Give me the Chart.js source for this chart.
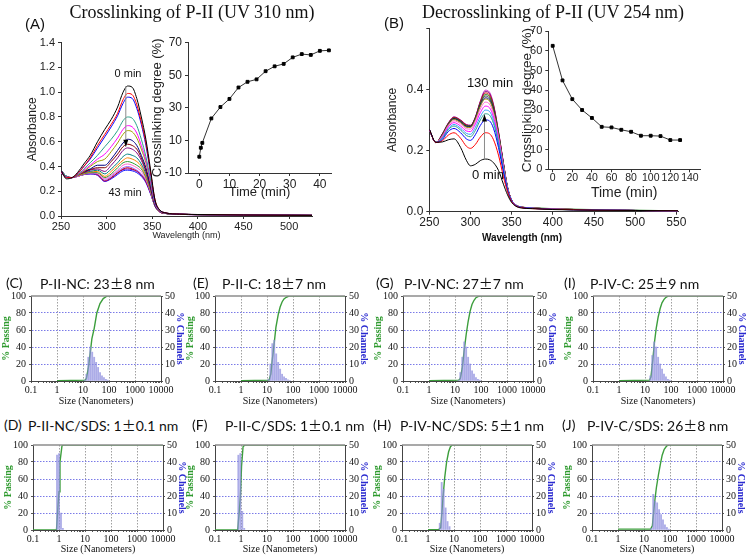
<!DOCTYPE html>
<html>
<head>
<meta charset="utf-8">
<script src="https://cdn.jsdelivr.net/npm/chart.js@4.4.0/dist/chart.umd.min.js"></script>
<style>
  body { margin: 0; background: #fff; }
  #page { position: relative; width: 750px; height: 559px; overflow: hidden; background: #fff; }
  canvas { position: absolute; }
  .txt { position: absolute; white-space: nowrap; line-height: 1; color: #111; }
  .pm { font-family: 'Noto Sans CJK SC'; }
</style>
</head>
<body>
<div id="page"></div>
<script>
/*
DATA
*/
// (A) crosslinking spectra, read at these wavelengths (nm)
const waveA = [250, 256, 262, 268, 275, 282, 290, 298, 305, 312, 318, 323, 328, 333, 338, 343, 348, 353, 358, 365, 380, 400, 450, 500, 525];
// one row per irradiation time, 0 min first, 43 min last
const spectraA = [
  [.37, .30, .31, .35, .42, .49, .60, .70, .78, .88, 1.00, 1.05, 1.04, .95, .80, .62, .38, .13, .05, .025, .015, .012, .008, .006, .005],
  [.36, .31, .31, .34, .40, .47, .57, .66, .74, .83, .94, .99, .98, .90, .76, .59, .36, .13, .05, .025, .015, .012, .008, .006, .005],
  [.36, .31, .31, .34, .40, .46, .55, .64, .72, .81, .91, .96, .95, .87, .74, .57, .35, .12, .05, .025, .015, .012, .008, .006, .005],
  [.37, .32, .31, .33, .38, .43, .49, .56, .62, .69, .77, .80, .79, .73, .62, .48, .30, .11, .045, .022, .014, .011, .008, .006, .005],
  [.37, .32, .31, .33, .37, .41, .46, .50, .56, .63, .70, .73, .72, .67, .57, .45, .28, .10, .04, .022, .014, .011, .008, .006, .005],
  [.37, .32, .31, .33, .36, .40, .44, .46, .52, .59, .66, .69, .68, .63, .54, .43, .27, .10, .04, .021, .014, .011, .008, .006, .005],
  [.37, .32, .31, .33, .36, .38, .41, .41, .46, .53, .59, .62, .61, .57, .49, .39, .25, .09, .038, .021, .014, .011, .008, .006, .005],
  [.37, .32, .31, .33, .355, .375, .39, .39, .44, .50, .56, .58, .57, .54, .47, .37, .24, .09, .037, .021, .014, .011, .008, .006, .005],
  [.36, .32, .31, .33, .35, .37, .38, .36, .41, .47, .53, .55, .54, .51, .45, .36, .23, .09, .036, .02, .014, .011, .008, .006, .005],
  [.36, .32, .31, .33, .35, .36, .37, .34, .38, .43, .48, .50, .49, .47, .42, .34, .22, .085, .036, .02, .014, .011, .008, .006, .005],
  [.36, .32, .31, .325, .345, .355, .36, .32, .36, .41, .45, .47, .46, .44, .40, .32, .21, .085, .035, .02, .014, .011, .008, .006, .005],
  [.36, .32, .31, .325, .34, .35, .35, .31, .34, .39, .43, .44, .43, .41, .38, .31, .205, .08, .035, .02, .014, .011, .008, .006, .005],
  [.35, .32, .31, .32, .34, .35, .345, .30, .33, .37, .41, .42, .41, .39, .36, .30, .20, .08, .034, .02, .014, .011, .008, .006, .005],
  [.35, .32, .31, .32, .335, .345, .34, .29, .32, .36, .39, .40, .39, .37, .34, .29, .195, .08, .034, .02, .013, .011, .008, .006, .005],
  [.35, .32, .31, .32, .335, .345, .335, .285, .31, .35, .38, .39, .38, .365, .335, .28, .19, .08, .034, .02, .013, .011, .008, .006, .005],
  [.35, .32, .31, .32, .335, .34, .33, .28, .305, .345, .375, .38, .375, .36, .33, .275, .185, .08, .034, .02, .013, .011, .008, .006, .005],
  [.35, .32, .31, .32, .335, .34, .33, .28, .30, .335, .365, .37, .365, .35, .32, .27, .18, .08, .034, .02, .013, .011, .008, .006, .005]
];
const colorsA = ['#000000', '#ff0000', '#0000ff', '#2aa18a', '#ff00ff', '#a0a000', '#000080', '#800000', '#800080',
                 '#008080', '#ff8000', '#339933', '#ff66cc', '#9966ff', '#cc0000', '#6600cc', '#1a1aff'];

// (A) inset: crosslinking degree vs time
const timeA = [0, 0.5, 1, 4, 7, 10, 13, 16, 19, 22, 25, 28, 31, 34, 37, 40, 43];
const degreeA = [0, 5.5, 8.5, 23.5, 30.5, 35.5, 42.5, 46, 47.5, 52.5, 55.5, 57, 61, 63, 62.5, 65, 65.3];

// (B) decrosslinking spectra
const waveB = [250, 258, 266, 273, 280, 288, 295, 300, 306, 312, 318, 323, 328, 334, 340, 345, 350, 355, 362, 375, 400, 450, 500, 552];
const spectraB = [
  [.270, .227, .228, .235, .238, .210, .168, .150, .155, .167, .172, .170, .160, .135, .090, .055, .030, .018, .012, .010, .007, .005, .004, .003],
  [.268, .226, .232, .250, .258, .240, .214, .207, .220, .244, .258, .255, .235, .185, .115, .065, .033, .019, .013, .010, .008, .005, .004, .003],
  [.268, .226, .236, .262, .272, .258, .238, .233, .252, .282, .300, .297, .272, .210, .130, .070, .035, .020, .014, .011, .008, .005, .004, .003],
  [.268, .226, .240, .268, .280, .267, .249, .245, .266, .300, .320, .316, .288, .222, .138, .073, .036, .020, .014, .011, .008, .005, .004, .003],
  [.268, .226, .242, .272, .285, .273, .256, .253, .276, .311, .332, .328, .298, .229, .142, .074, .036, .021, .014, .011, .008, .006, .004, .003],
  [.268, .226, .245, .277, .291, .280, .264, .262, .287, .324, .345, .340, .309, .237, .146, .076, .037, .021, .014, .011, .008, .006, .004, .003],
  [.268, .226, .248, .281, .297, .287, .271, .270, .296, .336, .358, .352, .320, .244, .150, .077, .037, .021, .015, .012, .009, .006, .004, .003],
  [.268, .226, .250, .284, .301, .291, .276, .275, .302, .345, .368, .362, .328, .250, .153, .078, .037, .021, .015, .012, .009, .006, .004, .003],
  [.268, .226, .251, .285, .303, .293, .278, .277, .304, .348, .372, .366, .332, .252, .154, .078, .037, .021, .015, .012, .009, .006, .004, .003],
  [.268, .226, .252, .286, .305, .295, .280, .279, .306, .352, .378, .372, .337, .255, .156, .079, .038, .022, .015, .012, .009, .006, .004, .003],
  [.268, .226, .253, .287, .306, .296, .281, .280, .307, .355, .383, .377, .341, .257, .157, .079, .038, .022, .015, .013, .010, .007, .005, .003],
  [.268, .226, .254, .288, .308, .298, .283, .281, .308, .358, .388, .382, .345, .259, .158, .080, .038, .022, .015, .012, .009, .006, .004, .003],
  [.268, .226, .255, .289, .309, .299, .284, .282, .309, .360, .393, .387, .348, .261, .159, .080, .038, .022, .015, .012, .009, .006, .004, .003],
  [.268, .226, .255, .290, .310, .300, .285, .283, .310, .362, .397, .391, .351, .263, .160, .081, .038, .022, .015, .012, .009, .006, .004, .003]
];
const colorsB = ['#000000', '#ff0000', '#0000ff', '#2aa18a', '#3399ff', '#ff00ff', '#ff66cc', '#999900',
                 '#000080', '#333333', '#228b22', '#cc0000', '#800080', '#cc33cc'];

// (B) inset
const timeB = [0, 10, 20, 30, 40, 50, 60, 70, 80, 90, 100, 110, 120, 130];
const degreeB = [62.5, 45, 35.5, 30, 26, 21.5, 21.2, 20, 19, 17, 17, 16.8, 14.8, 14.8];

// DLS panels (C)-(J): channel sizes (nm), % channels, and % passing curve
const sizesC = [11.3, 13.5, 16, 19, 22.6, 26.9, 32, 38.1, 45.3, 53.8, 64, 76.1, 90.5];
const chanC = [0.5, 4, 14, 20, 17, 14, 11, 8, 5, 3, 2, 1, 0.5];
const passCx = [1, 12, 13.5, 16, 19, 22, 27, 34, 45, 60, 85, 10000];
const passCy = [0.5, 1, 3, 15, 33, 50, 62, 80, 91, 97, 100, 100];

const sizesE = [11.3, 13.5, 16, 19, 22.6, 26.9, 32, 38.1, 45.3, 53.8, 64, 76.1];
const chanE = [1, 10, 22, 24, 16, 11, 7, 4, 2.5, 1.5, 0.7, 0.3];
const passEx = [1, 12, 14, 16, 19, 22, 27, 32, 38, 45, 55, 70, 10000];
const passEy = [0.5, 1, 8, 25, 45, 63, 78, 87, 93, 96.5, 98.5, 100, 100];

const sizesG = [13.5, 16, 19, 22.6, 26.9, 32, 38.1, 45.3, 53.8, 64, 76.1, 90.5];
const chanG = [0.5, 5, 14, 23, 20, 14, 10, 6, 4, 2, 1, 0.5];
const passGx = [1, 14, 16, 19, 22.6, 27, 32, 38, 45, 54, 64, 80, 100, 10000];
const passGy = [0.5, 1, 3, 15, 36, 55, 70, 82, 90, 95, 98, 99.5, 100, 100];

const sizesI = [16, 19, 22.6, 26.9, 32, 38.1, 45.3, 53.8, 64, 76.1, 90.5];
const chanI = [3, 15, 23, 20, 14, 10, 7, 4, 2.5, 1, 0.5];
const passIx = [1, 15, 17, 20, 23, 27, 32, 38, 45, 54, 64, 80, 10000];
const passIy = [0.5, 1, 5, 25, 45, 62, 75, 85, 92, 96, 98.5, 100, 100];

const sizesD = [0.84, 1.0, 1.19, 1.41];
const chanD = [44, 45, 10, 1];
const passDx = [0.1, 0.8, 0.92, 1.0, 1.09, 1.3, 1.5, 10000];
const passDy = [0, 0, 30, 45, 80, 99, 100, 100];

const sizesF = [0.79, 0.94, 1.12, 1.33];
const chanF = [44, 45, 11, 1];
const passFx = [0.1, 0.75, 0.87, 0.95, 1.05, 1.2, 1.4, 10000];
const passFy = [0, 0, 25, 40, 75, 98, 100, 100];

const sizesH = [2.83, 3.36, 4.0, 4.76, 5.66, 6.73];
const chanH = [4, 28, 24, 13, 5, 2];
const passHx = [1, 2.6, 3.1, 3.7, 4.4, 5.2, 6.2, 7.3, 8.5, 10000];
const passHy = [0.3, 0.5, 3, 35, 62, 80, 92, 98, 100, 100];

const sizesJ = [19, 22.6, 26.9, 32, 38.1, 45.3, 53.8, 64, 76.1, 90.5];
const chanJ = [1, 21, 17, 16, 12, 9, 6, 3, 1.5, 0.5];
const passJx = [1, 18, 21, 25, 30, 36, 43, 50, 60, 75, 90, 10000];
const passJy = [1, 1, 5, 30, 50, 65, 78, 88, 95, 99, 100, 100];

const sizeTicks = [0.1, 1, 10, 100, 1000, 10000];

/*
HELPERS
*/
const page = document.getElementById('page');
const SANS = 'Liberation Sans';
const SERIF = 'Liberation Serif';

Chart.defaults.animation = false;
Chart.defaults.responsive = false;
Chart.defaults.devicePixelRatio = 1;
Chart.defaults.plugins.legend.display = false;
Chart.defaults.plugins.tooltip.enabled = false;
Chart.defaults.font.family = SANS;
Chart.defaults.color = '#222';

function addCanvas(left, top, width, height) {
  let c = document.createElement('canvas');
  c.width = width;
  c.height = height;
  c.style.left = left + 'px';
  c.style.top = top + 'px';
  page.appendChild(c);
  return c;
}

// text centred (vertically, and horizontally unless left-aligned) on x, y
function addText(text, x, y, css, alignLeft) {
  let d = document.createElement('div');
  d.className = 'txt';
  // the ± sign is set wide, as in the source figure
  text.split('\u00b1').forEach((part, i) => {
    if (i > 0) {
      let pm = document.createElement('span');
      pm.className = 'pm';
      pm.textContent = '\u00b1';
      d.appendChild(pm);
    }
    d.appendChild(document.createTextNode(part));
  });
  d.style.left = x + 'px';
  d.style.top = y + 'px';
  d.style.transform = alignLeft ? 'translateY(-50%)' : 'translate(-50%,-50%)';
  Object.assign(d.style, css);
  page.appendChild(d);
  return d;
}

function xy(xs, ys) {
  return xs.map((x, i) => ({x: x, y: ys[i]}));
}

// vertical gray arrow drawn in data units
const arrowPlugin = {
  id: 'arrow',
  afterDatasetsDraw(chart, args, opts) {
    if (opts.x === undefined) return;
    const ctx = chart.ctx;
    const px = chart.scales.x.getPixelForValue(opts.x);
    const y1 = chart.scales.y.getPixelForValue(opts.from);
    const y2 = chart.scales.y.getPixelForValue(opts.to);
    const dir = y2 > y1 ? 1 : -1;
    ctx.save();
    ctx.strokeStyle = '#8a8a8a';
    ctx.lineWidth = 1;
    ctx.beginPath();
    ctx.moveTo(px, y1);
    ctx.lineTo(px, y2);
    ctx.stroke();
    ctx.fillStyle = '#000';
    ctx.beginPath();
    ctx.moveTo(px, y2);
    ctx.lineTo(px - 2.5, y2 - dir * 7);
    ctx.lineTo(px + 2.5, y2 - dir * 7);
    ctx.closePath();
    ctx.fill();
    ctx.restore();
  }
};

// top edge of the DLS frames
const framePlugin = {
  id: 'frame',
  afterDatasetsDraw(chart) {
    const a = chart.chartArea;
    const ctx = chart.ctx;
    ctx.save();
    ctx.strokeStyle = '#8c8c8c';
    ctx.lineWidth = 1.5;
    ctx.beginPath();
    ctx.moveTo(a.left, a.top);
    ctx.lineTo(a.right, a.top);
    ctx.stroke();
    ctx.restore();
  }
};

function spectrumDatasets(waves, rows, colors) {
  return rows.map((row, i) => ({
    data: xy(waves, row),
    borderColor: colors[i],
    borderWidth: 1,
    pointRadius: 0,
    cubicInterpolationMode: 'monotone'
  }));
}

function axisLine() {
  return {color: '#333', width: 1};
}

/*
(A) MAIN
*/
new Chart(addCanvas(0, 30, 375, 216), {
  type: 'line',
  data: {datasets: spectrumDatasets(waveA, spectraA, colorsA)},
  options: {
    layout: {padding: {top: 12.7, right: 63, left: 0, bottom: 0}},
    plugins: {arrow: {x: 321, from: 1.05, to: 0.56}},
    scales: {
      x: {
        type: 'linear', min: 250, max: 525,
        afterBuildTicks: s => { s.ticks = [250, 300, 350, 400, 450, 500].map(v => ({value: v})); },
        ticks: {font: {size: 11}, padding: 1, maxRotation: 0, autoSkip: false},
        grid: {drawOnChartArea: false, tickLength: 3, color: '#333'},
        border: axisLine(),
        title: {display: true, text: 'Wavelength (nm)', font: {size: 9}, padding: {top: 0, bottom: 4.6}},
        afterFit: s => { s.height = 30; }
      },
      y: {
        min: 0, max: 1.4,
        ticks: {stepSize: 0.2, font: {size: 11}, padding: 3, callback: v => v.toFixed(1)},
        grid: {drawOnChartArea: false, tickLength: 3, color: '#333'},
        border: axisLine(),
        title: {display: true, text: 'Absorbance', font: {size: 12}, padding: {top: 25, bottom: 0}},
        afterFit: s => { s.width = 61; }
      }
    }
  },
  plugins: [arrowPlugin]
});

/*
(A) INSET
*/
new Chart(addCanvas(140, 20, 205, 181), {
  type: 'line',
  data: {datasets: [{
    data: xy(timeA, degreeA),
    borderColor: '#333', borderWidth: 1,
    pointStyle: 'rect', pointRadius: 2, pointBackgroundColor: '#000', pointBorderColor: '#000'
  }]},
  options: {
    layout: {padding: {top: 22.7, right: 14, left: 0, bottom: 0}},
    scales: {
      x: {
        type: 'linear', min: -3.75, max: 43.7,
        afterBuildTicks: s => { s.ticks = [0, 10, 20, 30, 40].map(v => ({value: v})); },
        ticks: {font: {size: 12}, padding: 1, maxRotation: 0},
        grid: {drawOnChartArea: false, tickLength: 3, color: '#333'},
        border: axisLine(),
        title: {display: true, text: 'Time (min)', font: {size: 13}, padding: {top: 0, bottom: 1.2}},
        afterFit: s => { s.height = 28; }
      },
      y: {
        min: -10, max: 70,
        ticks: {stepSize: 10, font: {size: 12}, padding: 3},
        grid: {drawOnChartArea: false, tickLength: 3, color: '#333'},
        border: axisLine(),
        title: {display: true, text: 'Crosslinking degree (%)', font: {size: 13}, padding: {top: 9.2, bottom: 0}},
        afterFit: s => { s.width = 48; }
      }
    }
  }
});

/*
(B) MAIN
*/
new Chart(addCanvas(375, 15, 375, 235), {
  type: 'line',
  data: {datasets: spectrumDatasets(waveB, spectraB, colorsB)},
  options: {
    layout: {padding: {top: 13.1, right: 72, left: 0, bottom: 0}},
    plugins: {arrow: {x: 317, from: 0.17, to: 0.318}},
    scales: {
      x: {
        type: 'linear', min: 250, max: 552,
        afterBuildTicks: s => { s.ticks = [250, 300, 350, 400, 450, 500, 550].map(v => ({value: v})); },
        ticks: {font: {size: 12}, padding: 1, maxRotation: 0, autoSkip: false},
        grid: {drawOnChartArea: false, tickLength: 3, color: '#333'},
        border: axisLine(),
        afterFit: s => { s.height = 38.3; }
      },
      y: {
        min: 0, max: 0.6,
        ticks: {stepSize: 0.2, font: {size: 12}, padding: 3, callback: v => v > 0.5 ? '' : v.toFixed(1)},
        grid: {drawOnChartArea: false, tickLength: 3, color: '#333'},
        border: axisLine(),
        title: {display: true, text: 'Absorbance', font: {size: 12}, padding: {top: 10.8, bottom: 0}},
        afterFit: s => { s.width = 54.3; }
      }
    }
  },
  plugins: [arrowPlugin]
});

/*
(B) INSET
*/
new Chart(addCanvas(505, 8, 210, 197), {
  type: 'line',
  data: {datasets: [{
    data: xy(timeB, degreeB),
    borderColor: '#333', borderWidth: 1,
    pointStyle: 'rect', pointRadius: 2, pointBackgroundColor: '#000', pointBorderColor: '#000'
  }]},
  options: {
    layout: {padding: {top: 23, right: 15, left: 0, bottom: 0}},
    scales: {
      x: {
        type: 'linear', min: -4.5, max: 150.3,
        afterBuildTicks: s => { s.ticks = [0, 20, 40, 60, 80, 100, 120, 140].map(v => ({value: v})); },
        ticks: {font: {size: 10.5}, padding: 0, maxRotation: 0, autoSkip: false},
        grid: {drawOnChartArea: false, tickLength: 3, color: '#333'},
        border: axisLine(),
        title: {display: true, text: 'Time (min)', font: {size: 14}, padding: {top: 0, bottom: 3.3}},
        afterFit: s => { s.height = 35.7; }
      },
      y: {
        min: 0, max: 70,
        ticks: {stepSize: 10, font: {size: 11}, padding: 3},
        grid: {drawOnChartArea: false, tickLength: 3, color: '#333'},
        border: axisLine(),
        title: {display: true, text: 'Crosslinking degree (%)', font: {size: 13.5}, padding: {top: 13.9, bottom: 0}},
        afterFit: s => { s.width = 43.3; }
      }
    }
  }
});

/*
DLS PANELS
*/
function isDecade(v) {
  const l = Math.log10(v);
  return Math.abs(l - Math.round(l)) < 1e-6;
}

function dlsChart(plotLeft, plotTop, xH, titlePad, sizes, chans, passX, passY) {
  const canvas = addCanvas(plotLeft - 31, plotTop - 10, 192, 10 + 85 + xH);
  return new Chart(canvas, {
    type: 'bar',
    data: {datasets: [
      {
        type: 'bar', order: 0, yAxisID: 'y2',
        data: xy(sizes, chans),
        backgroundColor: 'rgba(140,140,222,0.72)',
        borderWidth: 0, barPercentage: 1, categoryPercentage: 1
      },
      {
        type: 'line', order: 1, yAxisID: 'y',
        data: xy(passX, passY),
        borderColor: '#3c9e3c', borderWidth: 1.4, pointRadius: 0
      }
    ]},
    options: {
      layout: {padding: {top: 10, right: 0, left: 0, bottom: 0}},
      scales: {
        x: {
          type: 'logarithmic', min: 0.1, max: 10000, offset: false,
          afterBuildTicks: s => {
            let t = [];
            for (let e = -1; e <= 4; e++) {
              for (let m = 1; m <= 9; m++) {
                let v = m * Math.pow(10, e);
                if (v <= 10000) t.push({value: v});
              }
            }
            s.ticks = t;
          },
          ticks: {
            font: {family: SERIF, size: 10}, color: '#111', padding: 1, maxRotation: 0, autoSkip: false,
            callback: v => sizeTicks.includes(v) ? String(v) : ''
          },
          grid: {
            offset: false, tickLength: 2, tickColor: '#555',
            color: ctx => (ctx.tick && isDecade(ctx.tick.value) && ctx.tick.value > 0.1 && ctx.tick.value < 10000) ? '#a0a0a0' : 'rgba(0,0,0,0)'
          },
          border: {color: '#444', width: 1, dash: [1.5, 1.5]},
          title: {display: true, text: 'Size (Nanometers)', font: {family: SERIF, size: 10}, color: '#111', padding: {top: 0, bottom: titlePad}},
          afterFit: s => { s.height = xH; }
        },
        y: {
          position: 'left', min: 0, max: 100,
          ticks: {stepSize: 10, font: {family: SERIF, size: 10}, color: '#111', padding: 3, callback: v => v % 20 === 0 ? v : ''},
          grid: {
            tickLength: 2, tickColor: '#555',
            color: ctx => {
              const v = ctx.tick ? ctx.tick.value : 0;
              if (v <= 0 || v >= 100) return 'rgba(0,0,0,0)';
              return v % 20 === 0 ? '#7a7ae8' : '#8fd08f';
            }
          },
          border: {color: '#444', width: 1, dash: [1.5, 1.5]},
          title: {display: true, text: '% Passing', color: '#2e9a2e', font: {family: SERIF, size: 10, weight: 'bold'}, padding: {top: 0, bottom: 0}},
          afterFit: s => { s.width = 31; }
        },
        y2: {
          position: 'right', min: 0, max: 50,
          ticks: {stepSize: 10, font: {family: SERIF, size: 10}, color: '#111', padding: 2},
          grid: {drawOnChartArea: false, tickLength: 2, tickColor: '#555'},
          border: {color: '#444', width: 1},
          title: {display: true, text: '% Channels', color: '#2a2ad0', font: {family: SERIF, size: 10, weight: 'bold'}, padding: {top: 6, bottom: 0}},
          afterFit: s => { s.width = 31; }
        }
      }
    },
    plugins: [framePlugin]
  });
}

dlsChart(31, 296, 30, 4, sizesC, chanC, passCx, passCy);
dlsChart(215, 296, 30, 4, sizesE, chanE, passEx, passEy);
dlsChart(403, 296, 30, 4, sizesG, chanG, passGx, passGy);
dlsChart(593, 296, 30, 4, sizesI, chanI, passIx, passIy);
dlsChart(33, 445, 28, 3, sizesD, chanD, passDx, passDy);
dlsChart(215, 445, 28, 3, sizesF, chanF, passFx, passFy);
dlsChart(402, 445, 28, 3, sizesH, chanH, passHx, passHy);
dlsChart(592, 445, 28, 3, sizesJ, chanJ, passJx, passJy);

/*
TEXT
*/
const titleCss = {fontFamily: SERIF, fontSize: '18px', color: '#111'};
addText('Crosslinking of P-II (UV 310 nm)', 192, 12, titleCss);
addText('Decrosslinking of P-II (UV 254 nm)', 553, 12, titleCss);
addText('(A)', 35, 23, {fontFamily: SANS, fontSize: '15px'});
addText('(B)', 394, 22, {fontFamily: SANS, fontSize: '15px'});

addText('0 min', 128, 73, {fontFamily: SANS, fontSize: '11px'});
addText('43 min', 125, 192, {fontFamily: SANS, fontSize: '11px'});
addText('130 min', 490, 82, {fontFamily: SANS, fontSize: '13px'});
addText('0 min', 488, 174, {fontFamily: SANS, fontSize: '13px'});
addText('Wavelength (nm)', 522, 238, {fontFamily: SANS, fontSize: '10px', fontWeight: 'bold'});

const dlsTags = ['(C)', '(E)', '(G)', '(I)', '(D)', '(F)', '(H)', '(J)'];
const dlsNames = ['P-II-NC: 23\u00b18 nm', 'P-II-C: 18\u00b17 nm', 'P-IV-NC: 27\u00b17 nm', 'P-IV-C: 25\u00b19 nm',
                  'P-II-NC/SDS: 1\u00b10.1 nm', 'P-II-C/SDS: 1\u00b10.1 nm', 'P-IV-NC/SDS: 5\u00b11 nm', 'P-IV-C/SDS: 26\u00b18 nm'];
const tagX = [6, 193, 376, 564, 4, 192, 373, 562];
const nameX = [40, 222, 404, 590, 28, 225, 400, 587];
const labelCss = {fontFamily: 'Lato', fontSize: '14px', color: '#111'};
for (let i = 0; i < dlsTags.length; i++) {
  const y = i < 4 ? 283 : 425;
  addText(dlsTags[i], tagX[i], y, labelCss, true);
  addText(dlsNames[i], nameX[i], y, labelCss, true);
}
</script>
</body>
</html>
